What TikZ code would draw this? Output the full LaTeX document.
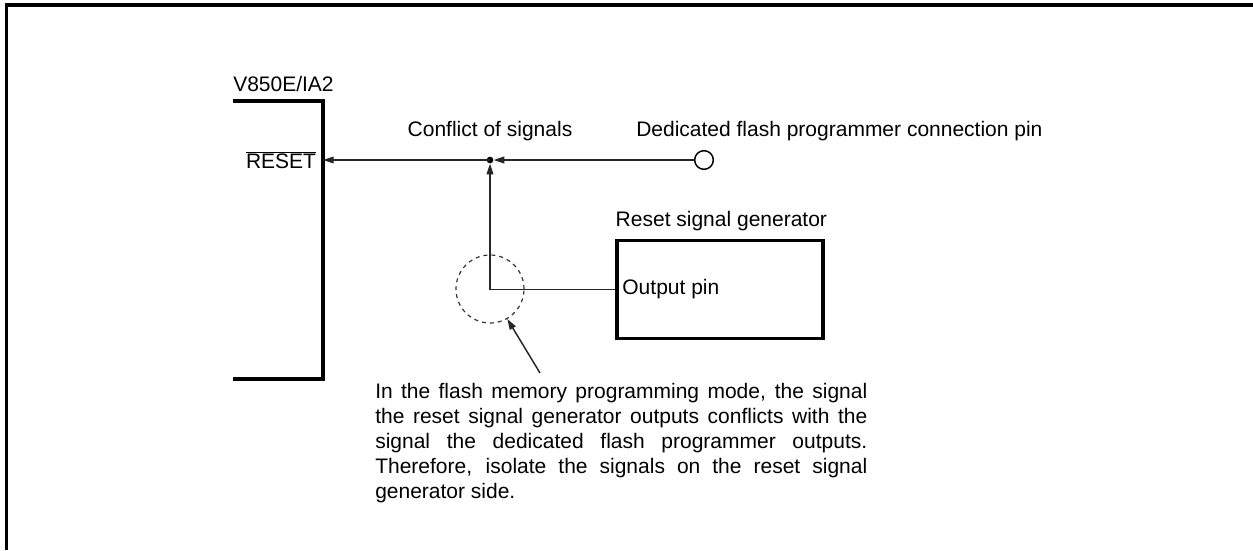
\documentclass[tikz,border=0pt]{standalone}
\usepackage{fontspec}
\setmainfont{Liberation Sans}
\usepackage{tikz}
\usetikzlibrary{
	arrows.meta,
	positioning,
	calc
}

\begin{document}
\begin{tikzpicture}[
    x=0.75pt, y=-0.75pt,
    font=\fontsize{15.75}{18.75}\selectfont,
    txt/.style={
        inner sep=0pt,
        align=left
    },
    thin_wire/.style={
        line width=1.1pt,
        draw=black!85
    },
    sig_edge/.style={
        thin_wire,
        -{Triangle[length=8pt,width=5pt]}
    },
    thick_wire/.style={
        line width=2.3pt,
        draw=black
    },
    pin_ring/.style={
        circle,
        draw=black,
        line width=1.1pt,
        fill=white,
        minimum size=14pt,
        inner sep=0pt
    },
    junc_dot/.style={
        circle,
        fill=black,
        minimum size=5pt,
        inner sep=0pt
    },
    gen_box/.style={
        rectangle,
        thick_wire,
        minimum width=154.5pt,
        minimum height=74pt,
        inner sep=0pt
    },
    iso_ring/.style={
        circle,
        draw=black!80,
        dashed,
        line width=0.9pt,
        minimum size=51pt,
        inner sep=0pt
    },
    >=stealth
]
    \useasboundingbox (0,0) rectangle (1253,550);

    % ====== outer frame (only top and left edges are visible) ======
    \draw[thick_wire] (6.5,550) -- (6.5,5) -- (1253,5);

    % ====== V850E/IA2 chip outline ======
    \coordinate (chip_top) at (233,101);
    \coordinate (chip_bot) at (233,379);
    \coordinate (chip_pin) at (323,160);
    \draw[thick_wire] (chip_top) -- (323,101) -- (323,379) -- (chip_bot);
    \node[txt, anchor=south west] (chip_name) at (233,92) {V850E/IA2};
    \node[txt, anchor=east] (reset) at ([xshift=-5pt]chip_pin) {\(\overline{\hbox{RESET}}\)};

    % ====== conflict point and dedicated programmer pin ======
    \node[junc_dot] (junc) at (490,160) {};
    \node[pin_ring] (pin) at (704,160) {};
    \node[txt] (conflict_lbl) at (490,131) {Conflict of signals};
    \node[txt, anchor=west] (pin_lbl) at (636,131) {Dedicated flash programmer connection pin};

    % ====== reset signal generator ======
    \node[gen_box] (gen) at (720,289.5) {};
    \node[txt, anchor=south west] (gen_lbl) at ([yshift=6pt]gen.north west) {Reset signal generator};
    \node[txt, anchor=west] (out_lbl) at ([xshift=5pt]gen.west) {Output pin};
    \coordinate (bend) at (490,289.5);

    % signal edges
    \draw[sig_edge] (pin.west) -- (junc.east);
    \draw[sig_edge] (junc.center) -- (chip_pin);
    \draw[sig_edge] (gen.west) -- (bend) -- (junc.south);

    % ====== isolation mark and note ======
    \node[iso_ring] (iso) at (490,289) {};
    \coordinate (note_tip) at (540,373);
    \draw[thin_wire, -{Triangle[length=8pt,width=5pt]}] (note_tip) -- (iso.-60);
    \node[txt, anchor=north west, text width=369pt, align=justify] (note) at (375,383)
        {\hyphenpenalty=10000 In the flash memory programming mode, the signal\linebreak
         the reset signal generator outputs conflicts with the\linebreak
         signal the dedicated flash programmer outputs.\linebreak
         Therefore, isolate the signals on the reset signal\linebreak
         generator side.};

\end{tikzpicture}
\end{document}
